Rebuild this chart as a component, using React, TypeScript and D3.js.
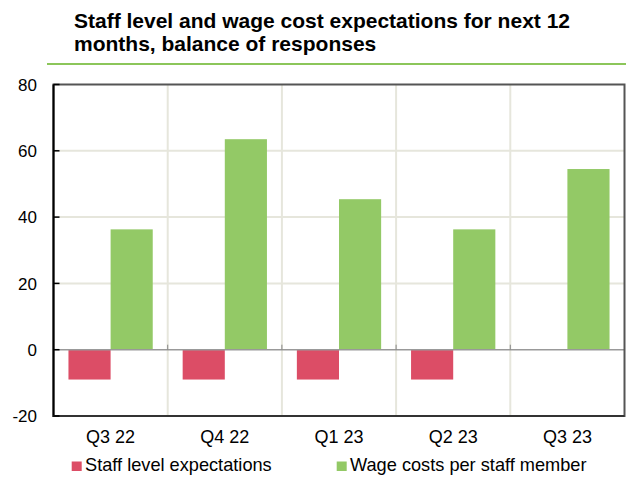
import React from "react";
import * as d3 from "d3";

const categories = ["Q3 22", "Q4 22", "Q1 23", "Q2 23", "Q3 23"];
const staffLevel: (number | null)[] = [-9, -9, -9, -9, null];
const wageCosts = [36.3, 63.5, 45.4, 36.3, 54.5];
const yTicks = [-20, 0, 20, 40, 60, 80];
const seriesNames = ["Staff level expectations", "Wage costs per staff member"];
const colors = ["#DC4D66", "#93C966"];
const titleLines = ["Staff level and wage cost expectations for next 12", "months, balance of responses"];

export default function App() {
  const W = 632, H = 477;
  const left = 53.5, right = 624.5, top = 84.5, bottom = 416;
  const x = d3.scaleBand<string>().domain(categories).range([left, right]).paddingInner(0).paddingOuter(0);
  const inner = d3.scaleBand<string>().domain(["a", "b"]).range([0, x.bandwidth()]).paddingOuter(0.355).paddingInner(0);
  const y = d3.scaleLinear().domain([-20, 80]).range([bottom, top]);
  const font = "Liberation Sans, Arial, sans-serif";
  return (
    <svg width={W} height={H} style={{ position: "absolute", left: 0, top: 0, display: "block" }} fontFamily={font}>
      <rect width={W} height={H} fill="#fff" />
      {titleLines.map((t, i) => (
        <text key={i} x={74} y={27.7 + i * 23.5} fontSize={21} fontWeight="bold" fill="#000">{t}</text>
      ))}
      <line x1={47} x2={626} y1={64} y2={64} stroke="#8CC65A" strokeWidth={2} />
      {yTicks.filter(v => v !== 0 && v !== 80 && v !== -20).map(v => (
        <line key={v} x1={left} x2={right} y1={y(v)} y2={y(v)} stroke="#E6E6DC" strokeWidth={2} />
      ))}
      {categories.slice(1).map(c => (
        <line key={c} x1={x(c)!} x2={x(c)!} y1={top} y2={bottom} stroke="#E6E6DC" strokeWidth={2} />
      ))}
      {categories.map((c, i) => {
        const v = staffLevel[i];
        const x0 = x(c)!;
        return (
          <g key={c}>
            {v !== null && (
              <rect x={x0 + inner("a")!} width={inner.bandwidth()} y={y(Math.max(0, v))} height={Math.abs(y(v) - y(0))} fill={colors[0]} />
            )}
            <rect x={x0 + inner("b")!} width={inner.bandwidth()} y={y(Math.max(0, wageCosts[i]))} height={Math.abs(y(wageCosts[i]) - y(0))} fill={colors[1]} />
          </g>
        );
      })}
      <line x1={left} x2={right} y1={y(0)} y2={y(0)} stroke="#999" strokeWidth={1.5} />
      {categories.slice(1).map(c => (
        <line key={"t" + c} x1={x(c)!} x2={x(c)!} y1={y(0)} y2={y(0) - 5} stroke="#888" strokeWidth={1} />
      ))}
      <rect x={left} y={top} width={right - left} height={bottom - top} fill="none" stroke="#555" strokeWidth={2} />
      <line x1={left} x2={left} y1={top} y2={bottom + 1} stroke="#000" strokeWidth={2} />
      <line x1={left} x2={right} y1={bottom} y2={bottom} stroke="#333" strokeWidth={2} />
      {yTicks.map(v => (
        <g key={"y" + v}>
          <line x1={left} x2={left + 6} y1={y(v)} y2={y(v)} stroke="#000" strokeWidth={1.5} />
          <text x={37} y={y(v) + 6.3} fontSize={17} textAnchor="end" fill="#000">{v}</text>
        </g>
      ))}
      {categories.map(c => (
        <text key={"c" + c} x={x(c)! + x.bandwidth() / 2} y={443.3} fontSize={18} textAnchor="middle" fill="#000">{c}</text>
      ))}
      {seriesNames.map((s, i) => {
        const lx = i === 0 ? 71.7 : 336.7;
        return (
          <g key={s}>
            <rect x={lx} y={461.5} width={10} height={9.5} fill={colors[i]} />
            <text x={lx + 13.3} y={470.5} fontSize={18.2} fill="#000">{s}</text>
          </g>
        );
      })}
    </svg>
  );
}
